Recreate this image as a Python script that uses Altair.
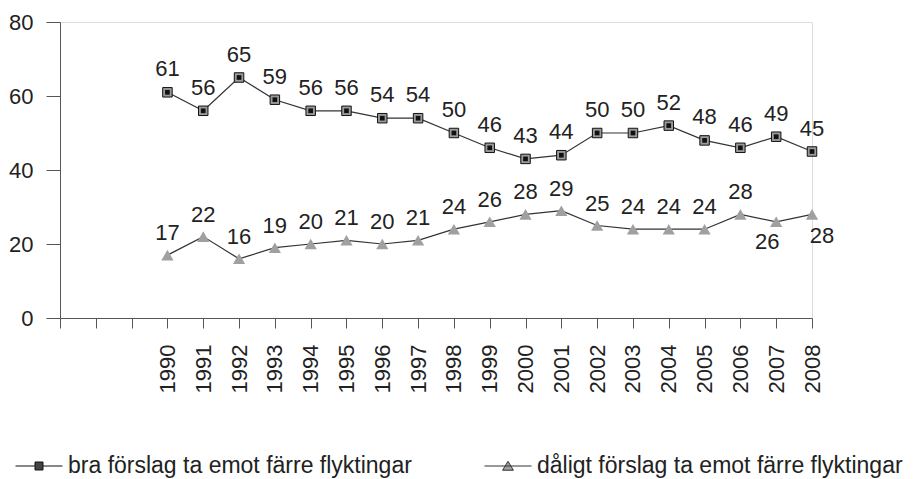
import altair as alt
import pandas as pd

years = list(range(1990, 2009))
axis_years = list(range(1987, 2009))
bra = [61, 56, 65, 59, 56, 56, 54, 54, 50, 46, 43, 44, 50, 50, 52, 48, 46, 49, 45]
daligt = [17, 22, 16, 19, 20, 21, 20, 21, 24, 26, 28, 29, 25, 24, 24, 24, 28, 26, 28]
series_names = ["bra förslag ta emot färre flyktingar",
                "dåligt förslag ta emot färre flyktingar"]
y_ticks = [0, 20, 40, 60, 80]

rows = []
for y, v in zip(years, bra):
    rows.append({"year": y, "value": v, "series": series_names[0]})
for y, v in zip(years, daligt):
    rows.append({"year": y, "value": v, "series": series_names[1]})
df = pd.DataFrame(rows)

FONT = "Liberation Sans"
TXT = "#222222"
AX = "#555555"

x = alt.X("year:Q",
          scale=alt.Scale(domain=[axis_years[0], axis_years[-1]], nice=False, zero=False),
          axis=alt.Axis(values=axis_years, format="d", labelAngle=270,
                        labelExpr="datum.value >= 1990 ? datum.label : ''",
                        title=None, grid=False, tickSize=10, labelPadding=16,
                        labelFontSize=22, labelColor=TXT, labelFont=FONT,
                        domainColor=AX, tickColor=AX, labelOverlap=False))
y = alt.Y("value:Q",
          scale=alt.Scale(domain=[0, 80], nice=False),
          axis=alt.Axis(values=y_ticks, title=None, grid=False, tickSize=14,
                        labelPadding=13, labelFontSize=22, labelColor=TXT,
                        labelFont=FONT, domainColor=AX, tickColor=AX))

base = alt.Chart(df)

lines = base.mark_line(color="#333333", strokeWidth=1.2).encode(
    x=x, y=y, detail="series:N")

sq_outer = base.transform_filter(alt.datum.series == series_names[0]).mark_point(
    shape="square", size=90, filled=True, fill="#9a9a9a", stroke="#111111",
    strokeWidth=1, opacity=1).encode(x=x, y=y)
sq_inner = base.transform_filter(alt.datum.series == series_names[0]).mark_point(
    shape="square", size=22, filled=True, fill="#111111", opacity=1).encode(x=x, y=y)
tri = base.transform_filter(alt.datum.series == series_names[1]).mark_point(
    shape="triangle-up", size=150, filled=True, fill="#a0a0a0", opacity=1).encode(x=x, y=y)

txt_kw = dict(fontSize=22, font=FONT, color=TXT, baseline="middle", align="center")
lab_up = base.transform_filter(alt.datum.series == series_names[0]).mark_text(
    dy=-23, **txt_kw).encode(x=x, y=y, text="value:Q")
lab_lo = base.transform_filter(
    (alt.datum.series == series_names[1]) & (alt.datum.year < 2007)).mark_text(
    dy=-22, **txt_kw).encode(x=x, y=y, text="value:Q")
lab_2007 = base.transform_filter(
    (alt.datum.series == series_names[1]) & (alt.datum.year == 2007)).mark_text(
    dy=20, dx=-9, **txt_kw).encode(x=x, y=y, text="value:Q")
lab_2008 = base.transform_filter(
    (alt.datum.series == series_names[1]) & (alt.datum.year == 2008)).mark_text(
    dy=22, dx=10, **txt_kw).encode(x=x, y=y, text="value:Q")

path_sq = "M-1,0H-0.17M0.17,0H1M-0.17,-0.17H0.17V0.17H-0.17Z"
path_tri = "M-1,0H1M0,-0.2L0.23,0.18L-0.23,0.18Z"

leg = alt.Legend(title=None, orient="none", legendX=-45, legendY=420,
                 direction="horizontal", columnPadding=70, symbolSize=2209,
                 symbolStrokeWidth=1, symbolOpacity=1, labelFontSize=23,
                 labelFont=FONT, labelColor=TXT, labelLimit=600, labelOffset=5)

legend_layer = base.mark_point(filled=True, opacity=0).encode(
    x=x, y=y,
    shape=alt.Shape("series:N", scale=alt.Scale(domain=series_names,
                                                 range=[path_sq, path_tri]), legend=leg),
    fill=alt.Fill("series:N", scale=alt.Scale(domain=series_names,
                                               range=["#444444", "#a0a0a0"]), legend=leg),
    stroke=alt.Stroke("series:N", scale=alt.Scale(domain=series_names,
                                                   range=["#111111", "#333333"]), legend=leg),
)

chart = alt.layer(lines, sq_outer, sq_inner, tri, lab_up, lab_lo, lab_2007, lab_2008,
                  legend_layer).properties(
    width=752, height=296,
    autosize=alt.AutoSizeParams(type="none"),
    padding={"left": 52, "top": 14, "right": 96, "bottom": 165},
).configure_view(stroke=None).configure(font=FONT)

chart.save("out.html", embed_options={"renderer": "svg", "actions": False})
